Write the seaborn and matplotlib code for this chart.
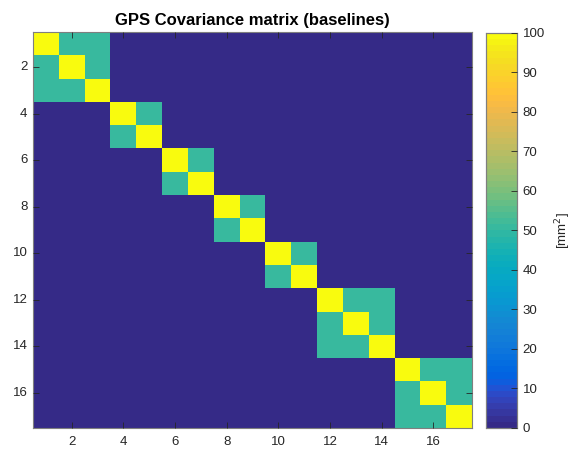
import numpy as np
import pandas as pd
import matplotlib
matplotlib.use("Agg")
import matplotlib.pyplot as plt
from matplotlib.colors import ListedColormap
import seaborn as sns

# Baseline groups (number of baselines per session block)
block_sizes = [3, 2, 2, 2, 2, 3, 3]
variance = 100.0     # diagonal entries [mm^2]
covariance = 50.0    # within-block off-diagonal entries [mm^2]
tick_labels = [2, 4, 6, 8, 10, 12, 14, 16]
cbar_ticks = [0, 10, 20, 30, 40, 50, 60, 70, 80, 90, 100]

# Block-diagonal covariance matrix
n = sum(block_sizes)
cov = np.zeros((n, n))
start = 0
for size in block_sizes:
    cov[start:start + size, start:start + size] = covariance
    start += size
np.fill_diagonal(cov, variance)
labels = np.arange(1, n + 1)
df = pd.DataFrame(cov, index=labels, columns=labels)

# MATLAB-style parula colormap
_parula = [[0.2081, 0.1663, 0.5292], [0.2116, 0.1898, 0.5777], [0.2123, 0.2138, 0.6270],
           [0.2081, 0.2386, 0.6771], [0.1959, 0.2645, 0.7279], [0.1707, 0.2919, 0.7792],
           [0.1253, 0.3242, 0.8303], [0.0591, 0.3598, 0.8683], [0.0117, 0.3875, 0.8820],
           [0.0060, 0.4086, 0.8828], [0.0165, 0.4266, 0.8786], [0.0329, 0.4430, 0.8720],
           [0.0498, 0.4586, 0.8641], [0.0629, 0.4737, 0.8554], [0.0723, 0.4887, 0.8467],
           [0.0779, 0.5040, 0.8384], [0.0793, 0.5200, 0.8312], [0.0749, 0.5375, 0.8263],
           [0.0641, 0.5570, 0.8240], [0.0488, 0.5772, 0.8228], [0.0343, 0.5966, 0.8199],
           [0.0265, 0.6137, 0.8135], [0.0239, 0.6287, 0.8038], [0.0231, 0.6418, 0.7913],
           [0.0228, 0.6535, 0.7768], [0.0267, 0.6642, 0.7607], [0.0384, 0.6743, 0.7436],
           [0.0590, 0.6838, 0.7254], [0.0843, 0.6928, 0.7062], [0.1133, 0.7015, 0.6859],
           [0.1453, 0.7098, 0.6646], [0.1801, 0.7177, 0.6424], [0.2178, 0.7250, 0.6193],
           [0.2586, 0.7317, 0.5954], [0.3022, 0.7376, 0.5712], [0.3482, 0.7424, 0.5473],
           [0.3953, 0.7459, 0.5244], [0.4420, 0.7481, 0.5033], [0.4871, 0.7491, 0.4840],
           [0.5300, 0.7491, 0.4661], [0.5709, 0.7485, 0.4494], [0.6099, 0.7473, 0.4337],
           [0.6473, 0.7456, 0.4188], [0.6834, 0.7435, 0.4044], [0.7184, 0.7411, 0.3905],
           [0.7525, 0.7384, 0.3768], [0.7858, 0.7356, 0.3633], [0.8185, 0.7327, 0.3498],
           [0.8507, 0.7299, 0.3360], [0.8824, 0.7274, 0.3217], [0.9139, 0.7258, 0.3063],
           [0.9450, 0.7261, 0.2886], [0.9739, 0.7314, 0.2666], [0.9938, 0.7455, 0.2403],
           [0.9990, 0.7653, 0.2164], [0.9955, 0.7861, 0.1967], [0.9880, 0.8066, 0.1794],
           [0.9789, 0.8271, 0.1633], [0.9697, 0.8481, 0.1475], [0.9626, 0.8705, 0.1309],
           [0.9589, 0.8949, 0.1132], [0.9598, 0.9218, 0.0948], [0.9661, 0.9514, 0.0755],
           [0.9763, 0.9831, 0.0538]]
parula = ListedColormap(_parula, name="parula")

sns.set_style("white")
plt.rcParams["font.family"] = ["Liberation Sans", "DejaVu Sans"]
plt.rcParams["axes.axisbelow"] = False

fig = plt.figure(figsize=(5.72, 4.51), dpi=100)
ax = fig.add_axes([0.0577, 0.051, 0.7675, 0.878])
cax = fig.add_axes([0.850, 0.051, 0.054, 0.876])

sns.heatmap(df, ax=ax, cmap=parula, vmin=0, vmax=100, cbar=True, cbar_ax=cax,
            square=False, linewidths=0)

edge = "#262626"
# MATLAB-style tick placement: label k sits at cell center k-0.5
ax.set_xticks([t - 0.5 for t in tick_labels])
ax.set_xticklabels([str(t) for t in tick_labels], rotation=0)
ax.set_yticks([t - 0.5 for t in tick_labels])
ax.set_yticklabels([str(t) for t in tick_labels], rotation=0)
ax.set_xlabel("")
ax.set_ylabel("")
ax.tick_params(axis="both", which="major", direction="in", length=4, width=0.6,
               color=edge, labelsize=9.5, labelcolor="#262626",
               bottom=True, left=True, top=True, right=True)
ax.tick_params(axis="x", pad=6)
ax.tick_params(axis="y", pad=4)
for s in ax.spines.values():
    s.set_visible(True)
    s.set_color("#7f7f7f")
    s.set_linewidth(0.8)
ax.set_axisbelow(False)
ax.set_title("GPS Covariance matrix (baselines)", fontsize=12,
             fontweight="bold", color="black", pad=5)

cax.set_yticks(cbar_ticks)
cax.tick_params(axis="y", direction="in", length=4, width=0.6, color=edge,
                labelsize=9.5, labelcolor="#262626", pad=4,
                right=True, left=False)
for s in cax.spines.values():
    s.set_visible(True)
    s.set_color("#7f7f7f")
    s.set_linewidth(0.8)
cax.set_axisbelow(False)
cax.set_ylabel("[mm$^2$]", fontsize=9.5, color="#262626", labelpad=6)

fig.savefig("out.png", dpi=100)
